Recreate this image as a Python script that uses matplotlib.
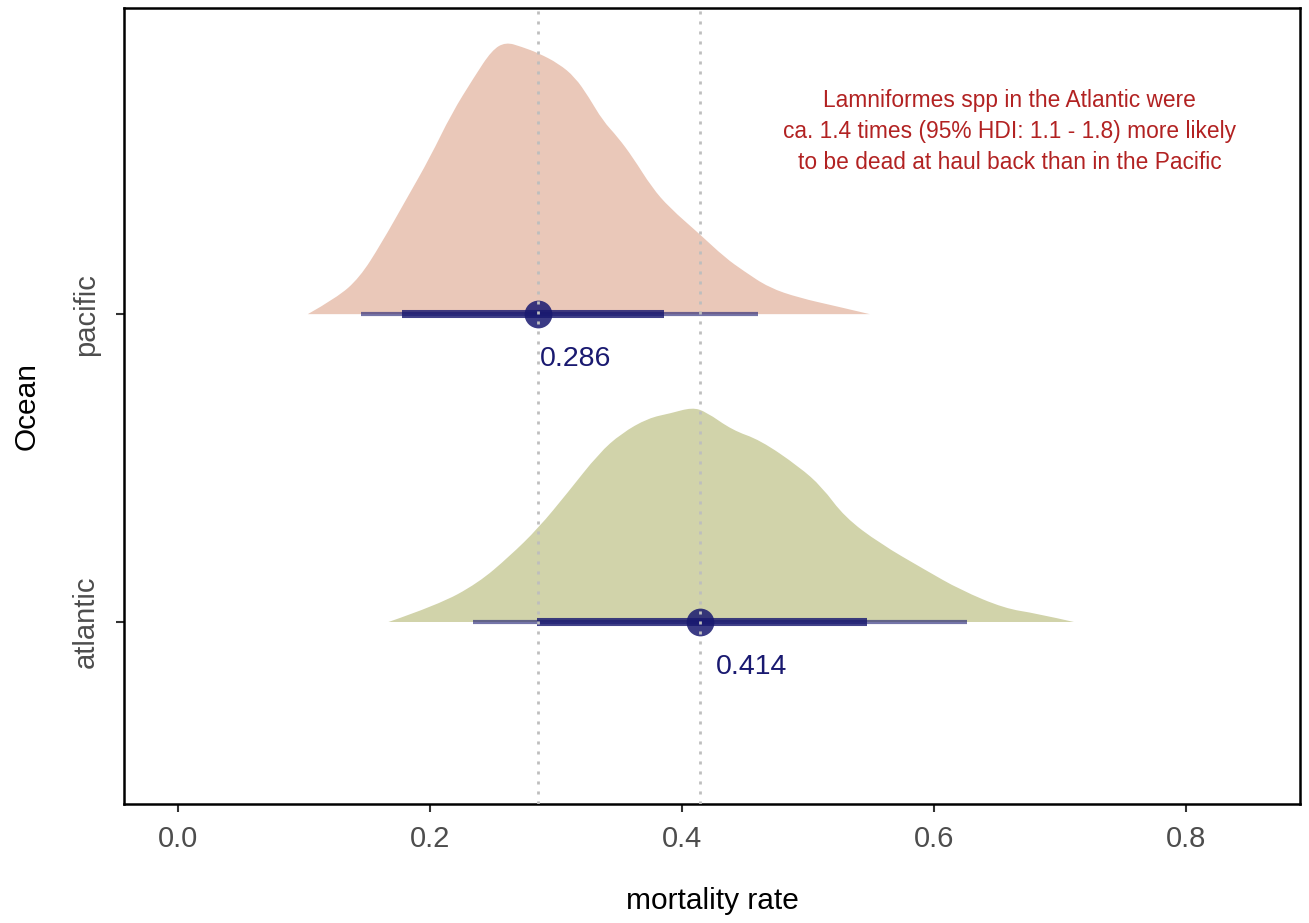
from matplotlib import pyplot as plt
from matplotlib.path import Path
from matplotlib.patches import PathPatch
import numpy as np

plt.rcParams['font.family'] = ['Liberation Sans', 'DejaVu Sans']

# categories (bottom to top) and posterior summaries
oceans = ['atlantic', 'pacific']
medians = [0.414, 0.286]
hdi95 = [(0.234, 0.626), (0.145, 0.460)]
hdi66 = [(0.285, 0.547), (0.178, 0.386)]
fill_colors = ['#D1D3AA', '#EAC8B9']
label_nudge = [0.013, 0.001]

# density outlines (x value, scaled height)
atl_x = [0.167, 0.206, 0.238, 0.263, 0.286, 0.309, 0.334, 0.352, 0.373, 0.391,
         0.408, 0.419, 0.440, 0.462, 0.493, 0.511, 0.529, 0.557, 0.593, 0.621,
         0.656, 0.681, 0.711]
atl_h = [0.0, 0.055, 0.126, 0.213, 0.305, 0.419, 0.548, 0.613, 0.662, 0.678,
         0.697, 0.683, 0.623, 0.591, 0.504, 0.439, 0.341, 0.255, 0.169, 0.104,
         0.044, 0.028, 0.0]
pac_x = [0.103, 0.126, 0.144, 0.161, 0.182, 0.200, 0.217, 0.235, 0.249, 0.260,
         0.273, 0.286, 0.302, 0.315, 0.326, 0.337, 0.349, 0.361, 0.376, 0.390,
         0.414, 0.434, 0.449, 0.469, 0.493, 0.522, 0.549]
pac_h = [0.0, 0.053, 0.118, 0.227, 0.379, 0.509, 0.651, 0.770, 0.857, 0.884,
         0.868, 0.848, 0.814, 0.770, 0.705, 0.629, 0.575, 0.509, 0.412, 0.346,
         0.260, 0.184, 0.140, 0.086, 0.053, 0.026, 0.0]
dens_x = [atl_x, pac_x]
dens_h = [atl_h, pac_h]

note = ("Lamniformes spp in the Atlantic were\n"
        "ca. 1.4 times (95% HDI: 1.1 - 1.8) more likely\n"
        "to be dead at haul back than in the Pacific")

navy = '#191970'


def smooth_density(ax, xs, hs, base, color):
    # quadratic bezier through midpoints of the read outline
    pts = [(x, base + h) for x, h in zip(xs, hs)]
    verts = [pts[0]]
    codes = [Path.MOVETO]
    for i in range(1, len(pts) - 1):
        if i < len(pts) - 2:
            end = ((pts[i][0] + pts[i + 1][0]) / 2, (pts[i][1] + pts[i + 1][1]) / 2)
        else:
            end = pts[-1]
        verts += [pts[i], end]
        codes += [Path.CURVE3, Path.CURVE3]
    verts += [pts[0], pts[0]]
    codes += [Path.LINETO, Path.CLOSEPOLY]
    ax.add_patch(PathPatch(Path(verts, codes), facecolor=color, lw=0, zorder=1))


fig = plt.figure(figsize=(13.09, 9.23), dpi=100)
ax = fig.add_axes([0.0947, 0.129, 0.8985, 0.862])

for i, name in enumerate(oceans):
    pos = i + 1
    smooth_density(ax, dens_x[i], dens_h[i], pos, fill_colors[i])
    ax.plot(hdi95[i], [pos, pos], color=navy, alpha=0.6, lw=3,
            solid_capstyle='butt', zorder=2)
    ax.plot(hdi66[i], [pos, pos], color=navy, alpha=0.82, lw=5.8,
            solid_capstyle='butt', zorder=3)
    ax.plot(medians[i], pos, 'o', color=navy, alpha=0.85, ms=20,
            mec='none', zorder=4)
    ax.text(medians[i] + label_nudge[i], pos - 0.145, f'{medians[i]:.3f}',
            color=navy, fontsize=20.5, ha='left', va='center', zorder=6)

for m in medians:
    ax.axvline(m, color='#BEBEBE', lw=2, ls=(0, (1.1, 2.5)), zorder=5)

ax.text(0.66, 2.594, note, color='#B22222', fontsize=16.4,
        ha='center', va='center', linespacing=1.45)

ax.set_xlim(-0.0429, 0.8905)
ax.set_ylim(0.409, 2.9935)
ax.set_xticks([0.0, 0.2, 0.4, 0.6, 0.8])
ax.set_xticklabels(['0.0', '0.2', '0.4', '0.6', '0.8'])
ax.set_yticks([1, 2])
ax.set_yticklabels(oceans, rotation=90, va='center')

ax.tick_params(axis='both', labelsize=21, labelcolor='#4D4D4D', color='#333333',
               width=1.5, length=5.5)
ax.tick_params(axis='x', pad=10)
ax.tick_params(axis='y', pad=12)
for s in ax.spines.values():
    s.set_linewidth(1.8)
    s.set_color('black')

ax.set_xlabel('mortality rate', fontsize=21.5, labelpad=24)
ax.set_ylabel('Ocean', fontsize=21.5, labelpad=22)

fig.savefig('out.png', dpi=100)
